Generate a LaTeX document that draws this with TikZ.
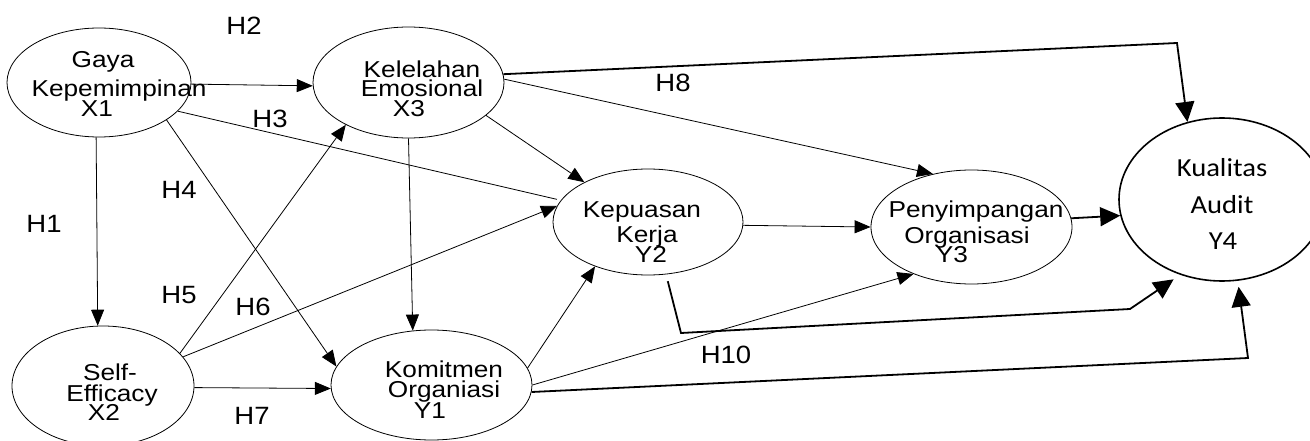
\documentclass[tikz,border=0pt]{standalone}
\usepackage{fontspec}
\usetikzlibrary{shapes.geometric,arrows.meta}
\newfontfamily\arialx[FakeStretch=1.14]{Liberation Sans}
\newfontfamily\hfont[FakeStretch=1.1]{Liberation Sans}
\newfontfamily\calx[FakeStretch=1.1]{Carlito}
\tikzset{
  latent/.style={ellipse, draw, line width=0.8pt, inner sep=0pt},
  txt/.style={anchor=base, inner sep=0pt, font=\arialx\fontsize{23}{23}\selectfont},
  hyp/.style={anchor=base, inner sep=0pt, font=\hfont\fontsize{25}{25}\selectfont},
  ktxt/.style={anchor=base, inner sep=0pt, font=\calx\fontsize{26}{26}\selectfont},
  link/.style={line width=0.8pt, -{Triangle[length=16pt,width=13pt]}},
  boldlink/.style={line width=1.8pt, line join=miter, -{Triangle[length=20pt,width=19pt]}},
}
\begin{document}
\begin{tikzpicture}[x=1pt,y=-1pt]
\useasboundingbox (0,0) rectangle (1310,441);
\fill[white] (0,0) rectangle (1310,441);
\clip (0,0) rectangle (1310,441);

% latent variables
\node[latent, minimum width=184pt, minimum height=109pt] (X1) at (99,82.5) {};
\node[latent, minimum width=191pt, minimum height=111pt] (X3) at (408.5,82.5) {};
\node[latent, minimum width=182pt, minimum height=120pt] (X2) at (103,386) {};
\node[latent, minimum width=201pt, minimum height=110pt] (Y1) at (431.5,385) {};
\node[latent, minimum width=190pt, minimum height=106pt] (Y2) at (648,222) {};
\node[latent, minimum width=201pt, minimum height=114pt] (Y3) at (971.5,227) {};
\node[latent, line width=1.6pt, minimum width=206pt, minimum height=163pt] (Y4) at (1222,199.5) {};

% variable names
\node[txt] (x1a) at (103,68) {Gaya};
\node[txt] (x1b) at (119,97) {Kepemimpinan};
\node[txt] (x1c) at (97,117) {X1};
\node[txt] (x3a) at (422,78) {Kelelahan};
\node[txt] (x3b) at (422,97) {Emosional};
\node[txt] (x3c) at (409,117) {X3};
\node[txt] (x2a) at (110,380) {Self-};
\node[txt] (x2b) at (112,401) {Efficacy};
\node[txt] (x2c) at (104,420) {X2};
\node[txt] (y1a) at (444,377) {Komitmen};
\node[txt] (y1b) at (444,397) {Organiasi};
\node[txt] (y1c) at (430,418) {Y1};
\node[txt] (y2a) at (642,217) {Kepuasan};
\node[txt] (y2b) at (647,242) {Kerja};
\node[txt] (y2c) at (651,262) {Y2};
\node[txt] (y3a) at (976,217) {Penyimpangan};
\node[txt] (y3b) at (967,243) {Organisasi};
\node[txt] (y3c) at (952,262) {Y3};
\node[ktxt] (y4a) at (1222,177) {Kualitas};
\node[ktxt] (y4b) at (1222,213) {Audit};
\node[ktxt] (y4c) at (1223,249) {Y4};

% hypothesis labels
\node[hyp] (h1) at (44,233) {H1};
\node[hyp] (h2) at (244,35) {H2};
\node[hyp] (h3) at (270,128) {H3};
\node[hyp] (h4) at (179,198) {H4};
\node[hyp] (h5) at (179,303) {H5};
\node[hyp] (h6) at (253,315) {H6};
\node[hyp] (h7) at (252,424) {H7};
\node[hyp] (h8) at (673,92) {H8};
\node[hyp] (h10) at (726,363) {H10};

% bend points of the paths into Kualitas Audit
\coordinate (c8) at (1177,43);
\coordinate (c10a) at (681,333);
\coordinate (c10b) at (1130,309);
\coordinate (c11) at (1248,358);

% paths
\draw[link] (X1.-1.6) -- (X3.182.7);
\draw[link] (X1.-93.2) -- (X2.95.8);
\draw[line width=0.8pt, shorten >=4pt] (X1.-20.5) -- (Y2.166);
\draw[link] (X1.-29.5) -- (Y1.169.4);
\draw[link] (X2.23.2) -- (X3.214.4);
\draw[link] (X2.20.7) -- (Y2.170);
\draw[link] (X2.-1.8) -- (Y1.182.3);
\draw[link] (X3.-90.5) -- (Y1.109.2);
\draw[link] (X3.-23.1) -- (Y2.148.5);
\draw[link] (X3.2.7) -- (Y3.126.3);
\draw[link] (Y2.-2.4) -- (Y3.180);
\draw[link] (Y1.10) -- (Y2.220.6);
\draw[link] (Y1.0.6) -- (Y3.219.9);
\draw[boldlink] (X3.5.6) -- (c8) -- (Y4.114.6);
\draw[boldlink] (Y3.5.7) -- (Y4.189.7);
\draw[boldlink, shorten <=7pt, shorten >=8pt] (Y2.-71.9) -- (c10a) -- (c10b) -- (Y4.241.1);
\draw[boldlink, shorten >=6pt] (Y1.-4) -- (c11) -- (Y4.-79.6);
\end{tikzpicture}
\end{document}
